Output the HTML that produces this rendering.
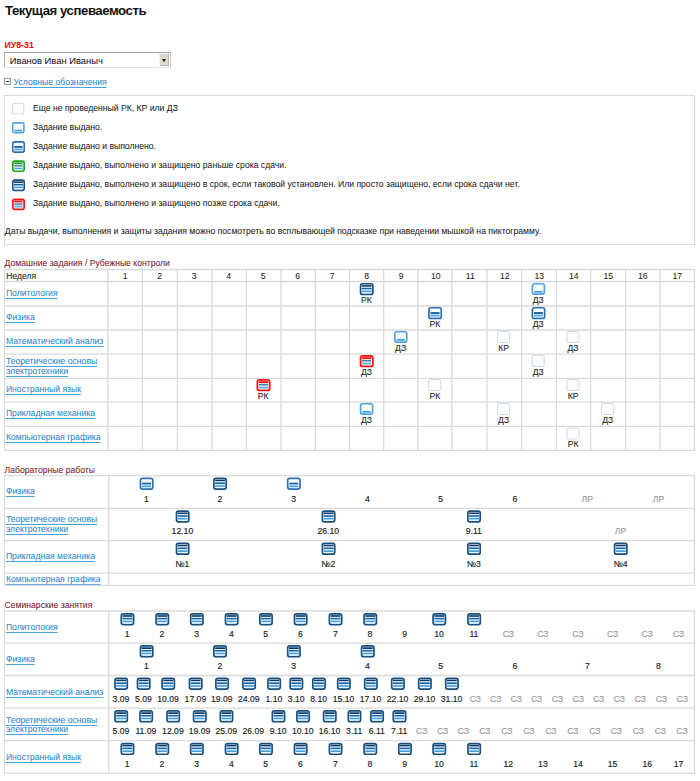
<!DOCTYPE html>
<html><head><meta charset="utf-8"><style>
html,body{margin:0;padding:0;background:#fff;width:700px;height:781px;overflow:hidden;position:relative}
body{font-family:"Liberation Sans",sans-serif}
.t{position:absolute;white-space:nowrap;line-height:1;-webkit-text-stroke:0.05px currentColor}
.lnk{color:#2a86cc;text-decoration:underline;text-decoration-color:#4aa3df;text-underline-offset:1.5px}
.r{position:absolute}
.ov{position:absolute;left:0;top:0}
.sel{position:absolute;left:4px;top:52px;width:165px;height:14px;border:1px solid;border-color:#a6a29a #d4ccc4 #e8e4de #a8b4ae;background:#fff}
.selbtn{position:absolute;right:0.7px;top:0.2px;width:10.2px;height:13.3px;background:#dcd8ce;box-shadow:inset 1px 1px 0 #f4f2ec, inset -1px -1px 0 #b8b4aa}
.arr{position:absolute;left:3.2px;top:5.8px;width:0;height:0;border-left:2.3px solid transparent;border-right:2.3px solid transparent;border-top:3.2px solid #000}
.minus{position:absolute;left:4.1px;top:78.2px;width:4.6px;height:4.7px;border:1px solid #9a9a9a;background:#fff}
.minus div{position:absolute;left:0.9px;top:2.0px;width:3px;height:1px;background:#333}
.legend{position:absolute;left:4px;top:95px;width:689px;height:148px;border:1px solid #dadada}
</style></head><body>
<div class="t " style="top:4.33px;font-size:13.2px;color:#111;letter-spacing:-0.45px;font-weight:bold;left:5.00px;-webkit-text-stroke:0">Текущая успеваемость</div>
<div class="t " style="top:41.05px;font-size:8.8px;color:#f01010;letter-spacing:0px;font-weight:bold;left:4.40px;">ИУ8-31</div>
<div class="sel"><div class="selbtn"><div class="arr"></div></div></div>
<div class="t " style="top:55.54px;font-size:9.4px;color:#151515;letter-spacing:0px;left:9.80px;">Иванов Иван Иваныч</div>
<div class="minus"><div></div></div>
<div class="t lnk" style="top:77.78px;font-size:8.65px;color:#2a88d0;letter-spacing:0px;left:13.60px;">Условные обозначения</div>
<div class="legend"></div>
<div class="t " style="top:104.18px;font-size:8.65px;color:#1c1c1c;letter-spacing:0px;left:33.00px;">Еще не проведенный РК, КР или ДЗ</div>
<div class="t " style="top:123.18px;font-size:8.65px;color:#1c1c1c;letter-spacing:0px;left:33.00px;">Задание выдано.</div>
<div class="t " style="top:142.18px;font-size:8.65px;color:#1c1c1c;letter-spacing:0px;left:33.00px;">Задание выдано и выполнено.</div>
<div class="t " style="top:161.18px;font-size:8.65px;color:#1c1c1c;letter-spacing:0px;left:33.00px;">Задание выдано, выполнено и защищено раньше срока сдачи.</div>
<div class="t " style="top:180.18px;font-size:8.65px;color:#1c1c1c;letter-spacing:0px;left:33.00px;">Задание выдано, выполнено и защищено в срок, если таковой установлен. Или просто защищено, если срока сдачи нет.</div>
<div class="t " style="top:199.18px;font-size:8.65px;color:#1c1c1c;letter-spacing:0px;left:33.00px;">Задание выдано, выполнено и защищено позже срока сдачи.</div>
<div class="t " style="top:227.18px;font-size:8.65px;color:#1c1c1c;letter-spacing:0px;left:4.80px;">Даты выдачи, выполнения и защиты задания можно посмотреть во всплывающей подсказке при наведении мышкой на пиктограмму.</div>
<div class="t " style="top:259.18px;font-size:8.65px;color:#7c1428;letter-spacing:0px;left:4.50px;">Домашние задания / Рубежные контроли</div>
<div class="t " style="top:272.18px;font-size:8.65px;color:#1c1c1c;letter-spacing:0px;left:6.20px;">Неделя</div>
<div class="t " style="top:272.18px;font-size:8.65px;color:#1c1c1c;letter-spacing:0px;left:65.25px;width:120px;text-align:center;">1</div>
<div class="t " style="top:272.18px;font-size:8.65px;color:#1c1c1c;letter-spacing:0px;left:99.75px;width:120px;text-align:center;">2</div>
<div class="t " style="top:272.18px;font-size:8.65px;color:#1c1c1c;letter-spacing:0px;left:134.25px;width:120px;text-align:center;">3</div>
<div class="t " style="top:272.18px;font-size:8.65px;color:#1c1c1c;letter-spacing:0px;left:168.75px;width:120px;text-align:center;">4</div>
<div class="t " style="top:272.18px;font-size:8.65px;color:#1c1c1c;letter-spacing:0px;left:203.25px;width:120px;text-align:center;">5</div>
<div class="t " style="top:272.18px;font-size:8.65px;color:#1c1c1c;letter-spacing:0px;left:237.75px;width:120px;text-align:center;">6</div>
<div class="t " style="top:272.18px;font-size:8.65px;color:#1c1c1c;letter-spacing:0px;left:272.25px;width:120px;text-align:center;">7</div>
<div class="t " style="top:272.18px;font-size:8.65px;color:#1c1c1c;letter-spacing:0px;left:306.75px;width:120px;text-align:center;">8</div>
<div class="t " style="top:272.18px;font-size:8.65px;color:#1c1c1c;letter-spacing:0px;left:341.25px;width:120px;text-align:center;">9</div>
<div class="t " style="top:272.18px;font-size:8.65px;color:#1c1c1c;letter-spacing:0px;left:375.75px;width:120px;text-align:center;">10</div>
<div class="t " style="top:272.18px;font-size:8.65px;color:#1c1c1c;letter-spacing:0px;left:410.25px;width:120px;text-align:center;">11</div>
<div class="t " style="top:272.18px;font-size:8.65px;color:#1c1c1c;letter-spacing:0px;left:444.75px;width:120px;text-align:center;">12</div>
<div class="t " style="top:272.18px;font-size:8.65px;color:#1c1c1c;letter-spacing:0px;left:479.25px;width:120px;text-align:center;">13</div>
<div class="t " style="top:272.18px;font-size:8.65px;color:#1c1c1c;letter-spacing:0px;left:513.75px;width:120px;text-align:center;">14</div>
<div class="t " style="top:272.18px;font-size:8.65px;color:#1c1c1c;letter-spacing:0px;left:548.25px;width:120px;text-align:center;">15</div>
<div class="t " style="top:272.18px;font-size:8.65px;color:#1c1c1c;letter-spacing:0px;left:582.75px;width:120px;text-align:center;">16</div>
<div class="t " style="top:272.18px;font-size:8.65px;color:#1c1c1c;letter-spacing:0px;left:617.25px;width:120px;text-align:center;">17</div>
<div class="t lnk" style="top:289.18px;font-size:8.65px;color:#2a88d0;letter-spacing:0px;left:5.90px;">Политология</div>
<div class="t lnk" style="top:313.18px;font-size:8.65px;color:#2a88d0;letter-spacing:0px;left:5.90px;">Физика</div>
<div class="t lnk" style="top:337.18px;font-size:8.65px;color:#2a88d0;letter-spacing:0px;left:5.90px;">Математический анализ</div>
<div class="t lnk" style="top:357.18px;font-size:8.65px;color:#2a88d0;letter-spacing:0px;left:5.90px;">Теоретические основы</div>
<div class="t lnk" style="top:367.18px;font-size:8.65px;color:#2a88d0;letter-spacing:0px;left:5.90px;">электротехники</div>
<div class="t lnk" style="top:385.18px;font-size:8.65px;color:#2a88d0;letter-spacing:0px;left:5.90px;">Иностранный язык</div>
<div class="t lnk" style="top:409.18px;font-size:8.65px;color:#2a88d0;letter-spacing:0px;left:5.90px;">Прикладная механика</div>
<div class="t lnk" style="top:433.18px;font-size:8.65px;color:#2a88d0;letter-spacing:0px;left:5.90px;">Компьютерная графика</div>
<div class="t " style="top:296.18px;font-size:8.65px;color:#1c1c1c;letter-spacing:0px;left:306.45px;width:120px;text-align:center;-webkit-text-stroke:0.08px currentColor">РК</div>
<div class="t " style="top:296.18px;font-size:8.65px;color:#1c1c1c;letter-spacing:0px;left:478.25px;width:120px;text-align:center;-webkit-text-stroke:0.08px currentColor">ДЗ</div>
<div class="t " style="top:320.18px;font-size:8.65px;color:#1c1c1c;letter-spacing:0px;left:374.85px;width:120px;text-align:center;-webkit-text-stroke:0.08px currentColor">РК</div>
<div class="t " style="top:320.18px;font-size:8.65px;color:#1c1c1c;letter-spacing:0px;left:478.25px;width:120px;text-align:center;-webkit-text-stroke:0.08px currentColor">ДЗ</div>
<div class="t " style="top:344.18px;font-size:8.65px;color:#1c1c1c;letter-spacing:0px;left:340.65px;width:120px;text-align:center;-webkit-text-stroke:0.08px currentColor">ДЗ</div>
<div class="t " style="top:344.18px;font-size:8.65px;color:#1c1c1c;letter-spacing:0px;left:443.65px;width:120px;text-align:center;-webkit-text-stroke:0.08px currentColor">КР</div>
<div class="t " style="top:344.18px;font-size:8.65px;color:#1c1c1c;letter-spacing:0px;left:513.05px;width:120px;text-align:center;-webkit-text-stroke:0.08px currentColor">ДЗ</div>
<div class="t " style="top:368.18px;font-size:8.65px;color:#1c1c1c;letter-spacing:0px;left:306.45px;width:120px;text-align:center;-webkit-text-stroke:0.08px currentColor">ДЗ</div>
<div class="t " style="top:368.18px;font-size:8.65px;color:#1c1c1c;letter-spacing:0px;left:478.25px;width:120px;text-align:center;-webkit-text-stroke:0.08px currentColor">ДЗ</div>
<div class="t " style="top:392.18px;font-size:8.65px;color:#1c1c1c;letter-spacing:0px;left:203.25px;width:120px;text-align:center;-webkit-text-stroke:0.08px currentColor">РК</div>
<div class="t " style="top:392.18px;font-size:8.65px;color:#1c1c1c;letter-spacing:0px;left:374.85px;width:120px;text-align:center;-webkit-text-stroke:0.08px currentColor">РК</div>
<div class="t " style="top:392.18px;font-size:8.65px;color:#1c1c1c;letter-spacing:0px;left:513.05px;width:120px;text-align:center;-webkit-text-stroke:0.08px currentColor">КР</div>
<div class="t " style="top:416.18px;font-size:8.65px;color:#1c1c1c;letter-spacing:0px;left:306.45px;width:120px;text-align:center;-webkit-text-stroke:0.08px currentColor">ДЗ</div>
<div class="t " style="top:416.18px;font-size:8.65px;color:#1c1c1c;letter-spacing:0px;left:443.65px;width:120px;text-align:center;-webkit-text-stroke:0.08px currentColor">ДЗ</div>
<div class="t " style="top:416.18px;font-size:8.65px;color:#1c1c1c;letter-spacing:0px;left:547.75px;width:120px;text-align:center;-webkit-text-stroke:0.08px currentColor">ДЗ</div>
<div class="t " style="top:440.18px;font-size:8.65px;color:#1c1c1c;letter-spacing:0px;left:513.05px;width:120px;text-align:center;-webkit-text-stroke:0.08px currentColor">РК</div>
<div class="t " style="top:466.18px;font-size:8.65px;color:#7c1428;letter-spacing:0px;left:4.50px;">Лабораторные работы</div>
<div class="t lnk" style="top:487.18px;font-size:8.65px;color:#2a88d0;letter-spacing:0px;left:5.90px;">Физика</div>
<div class="t lnk" style="top:515.18px;font-size:8.65px;color:#2a88d0;letter-spacing:0px;left:5.90px;">Теоретические основы</div>
<div class="t lnk" style="top:525.18px;font-size:8.65px;color:#2a88d0;letter-spacing:0px;left:5.90px;">электротехники</div>
<div class="t lnk" style="top:552.18px;font-size:8.65px;color:#2a88d0;letter-spacing:0px;left:5.90px;">Прикладная механика</div>
<div class="t lnk" style="top:575.18px;font-size:8.65px;color:#2a88d0;letter-spacing:0px;left:5.90px;">Компьютерная графика</div>
<div class="t " style="top:495.18px;font-size:8.65px;color:#1c1c1c;letter-spacing:0px;left:86.40px;width:120px;text-align:center;-webkit-text-stroke:0.15px currentColor">1</div>
<div class="t " style="top:495.18px;font-size:8.65px;color:#1c1c1c;letter-spacing:0px;left:159.80px;width:120px;text-align:center;-webkit-text-stroke:0.15px currentColor">2</div>
<div class="t " style="top:495.18px;font-size:8.65px;color:#1c1c1c;letter-spacing:0px;left:233.60px;width:120px;text-align:center;-webkit-text-stroke:0.15px currentColor">3</div>
<div class="t " style="top:495.18px;font-size:8.65px;color:#1c1c1c;letter-spacing:0px;left:307.50px;width:120px;text-align:center;-webkit-text-stroke:0.15px currentColor">4</div>
<div class="t " style="top:495.18px;font-size:8.65px;color:#1c1c1c;letter-spacing:0px;left:380.70px;width:120px;text-align:center;-webkit-text-stroke:0.15px currentColor">5</div>
<div class="t " style="top:495.18px;font-size:8.65px;color:#1c1c1c;letter-spacing:0px;left:454.90px;width:120px;text-align:center;-webkit-text-stroke:0.15px currentColor">6</div>
<div class="t " style="top:495.18px;font-size:8.65px;color:#9a9a9a;letter-spacing:0px;left:527.30px;width:120px;text-align:center;-webkit-text-stroke:0.15px currentColor">ЛР</div>
<div class="t " style="top:495.18px;font-size:8.65px;color:#9a9a9a;letter-spacing:0px;left:598.50px;width:120px;text-align:center;-webkit-text-stroke:0.15px currentColor">ЛР</div>
<div class="t " style="top:527.18px;font-size:8.65px;color:#1c1c1c;letter-spacing:0px;left:122.40px;width:120px;text-align:center;-webkit-text-stroke:0.15px currentColor">12.10</div>
<div class="t " style="top:527.18px;font-size:8.65px;color:#1c1c1c;letter-spacing:0px;left:268.30px;width:120px;text-align:center;-webkit-text-stroke:0.15px currentColor">26.10</div>
<div class="t " style="top:527.18px;font-size:8.65px;color:#1c1c1c;letter-spacing:0px;left:413.80px;width:120px;text-align:center;-webkit-text-stroke:0.15px currentColor">9.11</div>
<div class="t " style="top:527.18px;font-size:8.65px;color:#9a9a9a;letter-spacing:0px;left:560.50px;width:120px;text-align:center;-webkit-text-stroke:0.15px currentColor">ЛР</div>
<div class="t " style="top:560.18px;font-size:8.65px;color:#1c1c1c;letter-spacing:0px;left:122.40px;width:120px;text-align:center;-webkit-text-stroke:0.15px currentColor">№1</div>
<div class="t " style="top:560.18px;font-size:8.65px;color:#1c1c1c;letter-spacing:0px;left:268.30px;width:120px;text-align:center;-webkit-text-stroke:0.15px currentColor">№2</div>
<div class="t " style="top:560.18px;font-size:8.65px;color:#1c1c1c;letter-spacing:0px;left:413.80px;width:120px;text-align:center;-webkit-text-stroke:0.15px currentColor">№3</div>
<div class="t " style="top:560.18px;font-size:8.65px;color:#1c1c1c;letter-spacing:0px;left:560.50px;width:120px;text-align:center;-webkit-text-stroke:0.15px currentColor">№4</div>
<div class="t " style="top:601.18px;font-size:8.65px;color:#7c1428;letter-spacing:0px;left:4.50px;">Семинарские занятия</div>
<div class="t lnk" style="top:623.18px;font-size:8.65px;color:#2a88d0;letter-spacing:0px;left:5.90px;">Политология</div>
<div class="t lnk" style="top:655.18px;font-size:8.65px;color:#2a88d0;letter-spacing:0px;left:5.90px;">Физика</div>
<div class="t lnk" style="top:688.18px;font-size:8.65px;color:#2a88d0;letter-spacing:0px;left:5.90px;">Математический анализ</div>
<div class="t lnk" style="top:716.18px;font-size:8.65px;color:#2a88d0;letter-spacing:0px;left:5.90px;">Теоретические основы</div>
<div class="t lnk" style="top:725.18px;font-size:8.65px;color:#2a88d0;letter-spacing:0px;left:5.90px;">электротехники</div>
<div class="t lnk" style="top:753.18px;font-size:8.65px;color:#2a88d0;letter-spacing:0px;left:5.90px;">Иностранный язык</div>
<div class="t " style="top:630.18px;font-size:8.65px;color:#1c1c1c;letter-spacing:0px;left:67.20px;width:120px;text-align:center;-webkit-text-stroke:0.15px currentColor">1</div>
<div class="t " style="top:630.18px;font-size:8.65px;color:#1c1c1c;letter-spacing:0px;left:102.00px;width:120px;text-align:center;-webkit-text-stroke:0.15px currentColor">2</div>
<div class="t " style="top:630.18px;font-size:8.65px;color:#1c1c1c;letter-spacing:0px;left:136.60px;width:120px;text-align:center;-webkit-text-stroke:0.15px currentColor">3</div>
<div class="t " style="top:630.18px;font-size:8.65px;color:#1c1c1c;letter-spacing:0px;left:171.40px;width:120px;text-align:center;-webkit-text-stroke:0.15px currentColor">4</div>
<div class="t " style="top:630.18px;font-size:8.65px;color:#1c1c1c;letter-spacing:0px;left:205.70px;width:120px;text-align:center;-webkit-text-stroke:0.15px currentColor">5</div>
<div class="t " style="top:630.18px;font-size:8.65px;color:#1c1c1c;letter-spacing:0px;left:240.40px;width:120px;text-align:center;-webkit-text-stroke:0.15px currentColor">6</div>
<div class="t " style="top:630.18px;font-size:8.65px;color:#1c1c1c;letter-spacing:0px;left:275.30px;width:120px;text-align:center;-webkit-text-stroke:0.15px currentColor">7</div>
<div class="t " style="top:630.18px;font-size:8.65px;color:#1c1c1c;letter-spacing:0px;left:310.00px;width:120px;text-align:center;-webkit-text-stroke:0.15px currentColor">8</div>
<div class="t " style="top:630.18px;font-size:8.65px;color:#1c1c1c;letter-spacing:0px;left:344.70px;width:120px;text-align:center;-webkit-text-stroke:0.15px currentColor">9</div>
<div class="t " style="top:630.18px;font-size:8.65px;color:#1c1c1c;letter-spacing:0px;left:379.00px;width:120px;text-align:center;-webkit-text-stroke:0.15px currentColor">10</div>
<div class="t " style="top:630.18px;font-size:8.65px;color:#1c1c1c;letter-spacing:0px;left:413.90px;width:120px;text-align:center;-webkit-text-stroke:0.15px currentColor">11</div>
<div class="t " style="top:630.18px;font-size:8.65px;color:#9a9a9a;letter-spacing:0px;left:448.30px;width:120px;text-align:center;-webkit-text-stroke:0.15px currentColor">СЗ</div>
<div class="t " style="top:630.18px;font-size:8.65px;color:#9a9a9a;letter-spacing:0px;left:482.90px;width:120px;text-align:center;-webkit-text-stroke:0.15px currentColor">СЗ</div>
<div class="t " style="top:630.18px;font-size:8.65px;color:#9a9a9a;letter-spacing:0px;left:518.00px;width:120px;text-align:center;-webkit-text-stroke:0.15px currentColor">СЗ</div>
<div class="t " style="top:630.18px;font-size:8.65px;color:#9a9a9a;letter-spacing:0px;left:552.60px;width:120px;text-align:center;-webkit-text-stroke:0.15px currentColor">СЗ</div>
<div class="t " style="top:630.18px;font-size:8.65px;color:#9a9a9a;letter-spacing:0px;left:587.20px;width:120px;text-align:center;-webkit-text-stroke:0.15px currentColor">СЗ</div>
<div class="t " style="top:630.18px;font-size:8.65px;color:#9a9a9a;letter-spacing:0px;left:618.60px;width:120px;text-align:center;-webkit-text-stroke:0.15px currentColor">СЗ</div>
<div class="t " style="top:662.18px;font-size:8.65px;color:#1c1c1c;letter-spacing:0px;left:86.40px;width:120px;text-align:center;-webkit-text-stroke:0.15px currentColor">1</div>
<div class="t " style="top:662.18px;font-size:8.65px;color:#1c1c1c;letter-spacing:0px;left:159.80px;width:120px;text-align:center;-webkit-text-stroke:0.15px currentColor">2</div>
<div class="t " style="top:662.18px;font-size:8.65px;color:#1c1c1c;letter-spacing:0px;left:233.60px;width:120px;text-align:center;-webkit-text-stroke:0.15px currentColor">3</div>
<div class="t " style="top:662.18px;font-size:8.65px;color:#1c1c1c;letter-spacing:0px;left:307.50px;width:120px;text-align:center;-webkit-text-stroke:0.15px currentColor">4</div>
<div class="t " style="top:662.18px;font-size:8.65px;color:#1c1c1c;letter-spacing:0px;left:380.70px;width:120px;text-align:center;-webkit-text-stroke:0.15px currentColor">5</div>
<div class="t " style="top:662.18px;font-size:8.65px;color:#1c1c1c;letter-spacing:0px;left:454.90px;width:120px;text-align:center;-webkit-text-stroke:0.15px currentColor">6</div>
<div class="t " style="top:662.18px;font-size:8.65px;color:#1c1c1c;letter-spacing:0px;left:527.30px;width:120px;text-align:center;-webkit-text-stroke:0.15px currentColor">7</div>
<div class="t " style="top:662.18px;font-size:8.65px;color:#1c1c1c;letter-spacing:0px;left:598.50px;width:120px;text-align:center;-webkit-text-stroke:0.15px currentColor">8</div>
<div class="t " style="top:695.18px;font-size:8.65px;color:#1c1c1c;letter-spacing:0px;left:60.90px;width:120px;text-align:center;-webkit-text-stroke:0.15px currentColor">3.09</div>
<div class="t " style="top:695.18px;font-size:8.65px;color:#1c1c1c;letter-spacing:0px;left:83.40px;width:120px;text-align:center;-webkit-text-stroke:0.15px currentColor">5.09</div>
<div class="t " style="top:695.18px;font-size:8.65px;color:#1c1c1c;letter-spacing:0px;left:108.00px;width:120px;text-align:center;-webkit-text-stroke:0.15px currentColor">10.09</div>
<div class="t " style="top:695.18px;font-size:8.65px;color:#1c1c1c;letter-spacing:0px;left:135.40px;width:120px;text-align:center;-webkit-text-stroke:0.15px currentColor">17.09</div>
<div class="t " style="top:695.18px;font-size:8.65px;color:#1c1c1c;letter-spacing:0px;left:161.80px;width:120px;text-align:center;-webkit-text-stroke:0.15px currentColor">19.09</div>
<div class="t " style="top:695.18px;font-size:8.65px;color:#1c1c1c;letter-spacing:0px;left:188.80px;width:120px;text-align:center;-webkit-text-stroke:0.15px currentColor">24.09</div>
<div class="t " style="top:695.18px;font-size:8.65px;color:#1c1c1c;letter-spacing:0px;left:213.90px;width:120px;text-align:center;-webkit-text-stroke:0.15px currentColor">1.10</div>
<div class="t " style="top:695.18px;font-size:8.65px;color:#1c1c1c;letter-spacing:0px;left:236.10px;width:120px;text-align:center;-webkit-text-stroke:0.15px currentColor">3.10</div>
<div class="t " style="top:695.18px;font-size:8.65px;color:#1c1c1c;letter-spacing:0px;left:258.70px;width:120px;text-align:center;-webkit-text-stroke:0.15px currentColor">8.10</div>
<div class="t " style="top:695.18px;font-size:8.65px;color:#1c1c1c;letter-spacing:0px;left:283.60px;width:120px;text-align:center;-webkit-text-stroke:0.15px currentColor">15.10</div>
<div class="t " style="top:695.18px;font-size:8.65px;color:#1c1c1c;letter-spacing:0px;left:310.60px;width:120px;text-align:center;-webkit-text-stroke:0.15px currentColor">17.10</div>
<div class="t " style="top:695.18px;font-size:8.65px;color:#1c1c1c;letter-spacing:0px;left:337.60px;width:120px;text-align:center;-webkit-text-stroke:0.15px currentColor">22.10</div>
<div class="t " style="top:695.18px;font-size:8.65px;color:#1c1c1c;letter-spacing:0px;left:364.60px;width:120px;text-align:center;-webkit-text-stroke:0.15px currentColor">29.10</div>
<div class="t " style="top:695.18px;font-size:8.65px;color:#1c1c1c;letter-spacing:0px;left:391.60px;width:120px;text-align:center;-webkit-text-stroke:0.15px currentColor">31.10</div>
<div class="t " style="top:695.18px;font-size:8.65px;color:#9a9a9a;letter-spacing:0px;left:415.30px;width:120px;text-align:center;-webkit-text-stroke:0.15px currentColor">СЗ</div>
<div class="t " style="top:695.18px;font-size:8.65px;color:#9a9a9a;letter-spacing:0px;left:435.70px;width:120px;text-align:center;-webkit-text-stroke:0.15px currentColor">СЗ</div>
<div class="t " style="top:695.18px;font-size:8.65px;color:#9a9a9a;letter-spacing:0px;left:456.20px;width:120px;text-align:center;-webkit-text-stroke:0.15px currentColor">СЗ</div>
<div class="t " style="top:695.18px;font-size:8.65px;color:#9a9a9a;letter-spacing:0px;left:476.60px;width:120px;text-align:center;-webkit-text-stroke:0.15px currentColor">СЗ</div>
<div class="t " style="top:695.18px;font-size:8.65px;color:#9a9a9a;letter-spacing:0px;left:497.40px;width:120px;text-align:center;-webkit-text-stroke:0.15px currentColor">СЗ</div>
<div class="t " style="top:695.18px;font-size:8.65px;color:#9a9a9a;letter-spacing:0px;left:518.20px;width:120px;text-align:center;-webkit-text-stroke:0.15px currentColor">СЗ</div>
<div class="t " style="top:695.18px;font-size:8.65px;color:#9a9a9a;letter-spacing:0px;left:538.60px;width:120px;text-align:center;-webkit-text-stroke:0.15px currentColor">СЗ</div>
<div class="t " style="top:695.18px;font-size:8.65px;color:#9a9a9a;letter-spacing:0px;left:559.40px;width:120px;text-align:center;-webkit-text-stroke:0.15px currentColor">СЗ</div>
<div class="t " style="top:695.18px;font-size:8.65px;color:#9a9a9a;letter-spacing:0px;left:580.20px;width:120px;text-align:center;-webkit-text-stroke:0.15px currentColor">СЗ</div>
<div class="t " style="top:695.18px;font-size:8.65px;color:#9a9a9a;letter-spacing:0px;left:601.40px;width:120px;text-align:center;-webkit-text-stroke:0.15px currentColor">СЗ</div>
<div class="t " style="top:695.18px;font-size:8.65px;color:#9a9a9a;letter-spacing:0px;left:622.20px;width:120px;text-align:center;-webkit-text-stroke:0.15px currentColor">СЗ</div>
<div class="t " style="top:727.18px;font-size:8.65px;color:#1c1c1c;letter-spacing:0px;left:60.90px;width:120px;text-align:center;-webkit-text-stroke:0.15px currentColor">5.09</div>
<div class="t " style="top:727.18px;font-size:8.65px;color:#1c1c1c;letter-spacing:0px;left:85.90px;width:120px;text-align:center;-webkit-text-stroke:0.15px currentColor">11.09</div>
<div class="t " style="top:727.18px;font-size:8.65px;color:#1c1c1c;letter-spacing:0px;left:112.90px;width:120px;text-align:center;-webkit-text-stroke:0.15px currentColor">12.09</div>
<div class="t " style="top:727.18px;font-size:8.65px;color:#1c1c1c;letter-spacing:0px;left:139.50px;width:120px;text-align:center;-webkit-text-stroke:0.15px currentColor">19.09</div>
<div class="t " style="top:727.18px;font-size:8.65px;color:#1c1c1c;letter-spacing:0px;left:166.20px;width:120px;text-align:center;-webkit-text-stroke:0.15px currentColor">25.09</div>
<div class="t " style="top:727.18px;font-size:8.65px;color:#1c1c1c;letter-spacing:0px;left:193.30px;width:120px;text-align:center;-webkit-text-stroke:0.15px currentColor">26.09</div>
<div class="t " style="top:727.18px;font-size:8.65px;color:#1c1c1c;letter-spacing:0px;left:218.20px;width:120px;text-align:center;-webkit-text-stroke:0.15px currentColor">9.10</div>
<div class="t " style="top:727.18px;font-size:8.65px;color:#1c1c1c;letter-spacing:0px;left:242.80px;width:120px;text-align:center;-webkit-text-stroke:0.15px currentColor">10.10</div>
<div class="t " style="top:727.18px;font-size:8.65px;color:#1c1c1c;letter-spacing:0px;left:269.50px;width:120px;text-align:center;-webkit-text-stroke:0.15px currentColor">16.10</div>
<div class="t " style="top:727.18px;font-size:8.65px;color:#1c1c1c;letter-spacing:0px;left:294.20px;width:120px;text-align:center;-webkit-text-stroke:0.15px currentColor">3.11</div>
<div class="t " style="top:727.18px;font-size:8.65px;color:#1c1c1c;letter-spacing:0px;left:316.80px;width:120px;text-align:center;-webkit-text-stroke:0.15px currentColor">6.11</div>
<div class="t " style="top:727.18px;font-size:8.65px;color:#1c1c1c;letter-spacing:0px;left:339.20px;width:120px;text-align:center;-webkit-text-stroke:0.15px currentColor">7.11</div>
<div class="t " style="top:727.18px;font-size:8.65px;color:#9a9a9a;letter-spacing:0px;left:361.70px;width:120px;text-align:center;-webkit-text-stroke:0.15px currentColor">СЗ</div>
<div class="t " style="top:727.18px;font-size:8.65px;color:#9a9a9a;letter-spacing:0px;left:382.60px;width:120px;text-align:center;-webkit-text-stroke:0.15px currentColor">СЗ</div>
<div class="t " style="top:727.18px;font-size:8.65px;color:#9a9a9a;letter-spacing:0px;left:403.20px;width:120px;text-align:center;-webkit-text-stroke:0.15px currentColor">СЗ</div>
<div class="t " style="top:727.18px;font-size:8.65px;color:#9a9a9a;letter-spacing:0px;left:424.80px;width:120px;text-align:center;-webkit-text-stroke:0.15px currentColor">СЗ</div>
<div class="t " style="top:727.18px;font-size:8.65px;color:#9a9a9a;letter-spacing:0px;left:446.80px;width:120px;text-align:center;-webkit-text-stroke:0.15px currentColor">СЗ</div>
<div class="t " style="top:727.18px;font-size:8.65px;color:#9a9a9a;letter-spacing:0px;left:468.80px;width:120px;text-align:center;-webkit-text-stroke:0.15px currentColor">СЗ</div>
<div class="t " style="top:727.18px;font-size:8.65px;color:#9a9a9a;letter-spacing:0px;left:490.80px;width:120px;text-align:center;-webkit-text-stroke:0.15px currentColor">СЗ</div>
<div class="t " style="top:727.18px;font-size:8.65px;color:#9a9a9a;letter-spacing:0px;left:512.80px;width:120px;text-align:center;-webkit-text-stroke:0.15px currentColor">СЗ</div>
<div class="t " style="top:727.18px;font-size:8.65px;color:#9a9a9a;letter-spacing:0px;left:534.80px;width:120px;text-align:center;-webkit-text-stroke:0.15px currentColor">СЗ</div>
<div class="t " style="top:727.18px;font-size:8.65px;color:#9a9a9a;letter-spacing:0px;left:556.40px;width:120px;text-align:center;-webkit-text-stroke:0.15px currentColor">СЗ</div>
<div class="t " style="top:727.18px;font-size:8.65px;color:#9a9a9a;letter-spacing:0px;left:578.40px;width:120px;text-align:center;-webkit-text-stroke:0.15px currentColor">СЗ</div>
<div class="t " style="top:727.18px;font-size:8.65px;color:#9a9a9a;letter-spacing:0px;left:600.40px;width:120px;text-align:center;-webkit-text-stroke:0.15px currentColor">СЗ</div>
<div class="t " style="top:727.18px;font-size:8.65px;color:#9a9a9a;letter-spacing:0px;left:622.00px;width:120px;text-align:center;-webkit-text-stroke:0.15px currentColor">СЗ</div>
<div class="t " style="top:760.18px;font-size:8.65px;color:#1c1c1c;letter-spacing:0px;left:67.20px;width:120px;text-align:center;-webkit-text-stroke:0.15px currentColor">1</div>
<div class="t " style="top:760.18px;font-size:8.65px;color:#1c1c1c;letter-spacing:0px;left:102.00px;width:120px;text-align:center;-webkit-text-stroke:0.15px currentColor">2</div>
<div class="t " style="top:760.18px;font-size:8.65px;color:#1c1c1c;letter-spacing:0px;left:136.60px;width:120px;text-align:center;-webkit-text-stroke:0.15px currentColor">3</div>
<div class="t " style="top:760.18px;font-size:8.65px;color:#1c1c1c;letter-spacing:0px;left:171.40px;width:120px;text-align:center;-webkit-text-stroke:0.15px currentColor">4</div>
<div class="t " style="top:760.18px;font-size:8.65px;color:#1c1c1c;letter-spacing:0px;left:205.70px;width:120px;text-align:center;-webkit-text-stroke:0.15px currentColor">5</div>
<div class="t " style="top:760.18px;font-size:8.65px;color:#1c1c1c;letter-spacing:0px;left:240.40px;width:120px;text-align:center;-webkit-text-stroke:0.15px currentColor">6</div>
<div class="t " style="top:760.18px;font-size:8.65px;color:#1c1c1c;letter-spacing:0px;left:275.30px;width:120px;text-align:center;-webkit-text-stroke:0.15px currentColor">7</div>
<div class="t " style="top:760.18px;font-size:8.65px;color:#1c1c1c;letter-spacing:0px;left:310.00px;width:120px;text-align:center;-webkit-text-stroke:0.15px currentColor">8</div>
<div class="t " style="top:760.18px;font-size:8.65px;color:#1c1c1c;letter-spacing:0px;left:344.70px;width:120px;text-align:center;-webkit-text-stroke:0.15px currentColor">9</div>
<div class="t " style="top:760.18px;font-size:8.65px;color:#1c1c1c;letter-spacing:0px;left:379.00px;width:120px;text-align:center;-webkit-text-stroke:0.15px currentColor">10</div>
<div class="t " style="top:760.18px;font-size:8.65px;color:#1c1c1c;letter-spacing:0px;left:413.90px;width:120px;text-align:center;-webkit-text-stroke:0.15px currentColor">11</div>
<div class="t " style="top:760.18px;font-size:8.65px;color:#1c1c1c;letter-spacing:0px;left:448.30px;width:120px;text-align:center;-webkit-text-stroke:0.15px currentColor">12</div>
<div class="t " style="top:760.18px;font-size:8.65px;color:#1c1c1c;letter-spacing:0px;left:482.90px;width:120px;text-align:center;-webkit-text-stroke:0.15px currentColor">13</div>
<div class="t " style="top:760.18px;font-size:8.65px;color:#1c1c1c;letter-spacing:0px;left:518.00px;width:120px;text-align:center;-webkit-text-stroke:0.15px currentColor">14</div>
<div class="t " style="top:760.18px;font-size:8.65px;color:#1c1c1c;letter-spacing:0px;left:552.60px;width:120px;text-align:center;-webkit-text-stroke:0.15px currentColor">15</div>
<div class="t " style="top:760.18px;font-size:8.65px;color:#1c1c1c;letter-spacing:0px;left:587.20px;width:120px;text-align:center;-webkit-text-stroke:0.15px currentColor">16</div>
<div class="t " style="top:760.18px;font-size:8.65px;color:#1c1c1c;letter-spacing:0px;left:618.60px;width:120px;text-align:center;-webkit-text-stroke:0.15px currentColor">17</div>
<svg class="ov" width="700" height="781" viewBox="0 0 700 781"><g fill="none" stroke="#dadada" stroke-width="1.3"><path d="M4 269.5H695.2"/><path d="M4 281.5H695.2"/><path d="M4 306.0H695.2"/><path d="M4 330.0H695.2"/><path d="M4 354.2H695.2"/><path d="M4 378.3H695.2"/><path d="M4 402.1H695.2"/><path d="M4 426.4H695.2"/><path d="M4 450.3H695.2"/><path d="M107.8 268.8V451.0"/><path d="M142.4 268.8V451.0"/><path d="M177.4 268.8V451.0"/><path d="M212.0 268.8V451.0"/><path d="M246.4 268.8V451.0"/><path d="M281.0 268.8V451.0"/><path d="M315.3 268.8V451.0"/><path d="M349.6 268.8V451.0"/><path d="M383.7 268.8V451.0"/><path d="M417.8 268.8V451.0"/><path d="M451.8 268.8V451.0"/><path d="M487.0 268.8V451.0"/><path d="M521.6 268.8V451.0"/><path d="M556.4 268.8V451.0"/><path d="M590.6 268.8V451.0"/><path d="M625.6 268.8V451.0"/><path d="M660.0 268.8V451.0"/><path d="M694.5 268.8V451.0"/><path d="M4.5 268.8V451.0" stroke-width="1"/><path d="M4 475.7H695.2"/><path d="M4 508.3H695.2"/><path d="M4 540.6H695.2"/><path d="M4 573.1H695.2"/><path d="M4 585.4H695.2"/><path d="M108.8 475.0V586.1"/><path d="M694.5 475.0V586.1"/><path d="M4.5 475.0V586.1" stroke-width="1"/><path d="M4 611.0H695.2"/><path d="M4 643.1H695.2"/><path d="M4 675.5H695.2"/><path d="M4 708.1H695.2"/><path d="M4 740.7H695.2"/><path d="M4 773.1H695.2"/><path d="M108.8 610.3V773.8000000000001"/><path d="M694.5 610.3V773.8000000000001"/><path d="M4.5 610.3V773.8000000000001" stroke-width="1"/></g><g transform="translate(12.00,102.90) scale(0.93,0.96)"><rect x="0.55" y="0.55" width="12.1" height="11.0" rx="1.8" fill="#fff" stroke="#cfdbe9" stroke-width="1.1"/></g><g transform="translate(12.00,122.00) scale(0.93,0.96)"><rect x="0.85" y="0.85" width="12.0" height="10.3" rx="2.0" fill="#fff" stroke="#50a5e0" stroke-width="1.7"/><rect x="2.7" y="8.0" width="8.3" height="1.8" fill="#46a0de"/></g><g transform="translate(12.00,141.10) scale(0.93,0.96)"><rect x="0.85" y="0.85" width="12.3" height="10.700000000000001" rx="2.0" fill="#fff" stroke="#2a6fae" stroke-width="1.7"/><rect x="2.5" y="5.2" width="8.9" height="1.9" fill="#135f9f"/><rect x="2.5" y="7.1" width="8.9" height="0.9" fill="#d4e6f4"/><rect x="2.5" y="8.0" width="8.9" height="1.6" fill="#4aa3e0"/><rect x="2.5" y="9.6" width="8.9" height="0.8" fill="#bcdcf2"/></g><g transform="translate(12.00,160.20) scale(0.93,0.96)"><rect x="0.9" y="0.9" width="12.2" height="10.6" rx="2.0" fill="#fff" stroke="#14a814" stroke-width="1.8"/><rect x="2.5" y="2.3" width="8.9" height="2.0" fill="#10a510"/><rect x="2.5" y="4.3" width="8.9" height="1.0" fill="#e0efe0"/><rect x="2.5" y="5.3" width="8.9" height="1.3" fill="#17589a"/><rect x="2.5" y="6.6" width="8.9" height="1.6" fill="#c4dcf0"/><rect x="2.5" y="8.2" width="8.9" height="1.3" fill="#3f9fe0"/><rect x="2.5" y="9.5" width="8.9" height="0.7" fill="#cfe4f4"/></g><g transform="translate(12.00,179.30) scale(0.93,0.96)"><rect x="0.85" y="0.85" width="12.3" height="10.700000000000001" rx="2.0" fill="#fff" stroke="#17507e" stroke-width="1.7"/><rect x="2.1" y="2.2" width="9.8" height="1.7" fill="#0a3868"/><rect x="2.1" y="3.9" width="9.8" height="1.0" fill="#e6eef6"/><rect x="2.1" y="4.9" width="9.8" height="1.7" fill="#1662a4"/><rect x="2.1" y="6.6" width="9.8" height="1.1" fill="#dcebf6"/><rect x="2.1" y="7.7" width="9.8" height="1.7" fill="#3d9ee2"/><rect x="2.1" y="9.4" width="9.8" height="1.0" fill="#eef6fc"/></g><g transform="translate(12.00,198.40) scale(0.93,0.96)"><rect x="0.9" y="0.9" width="12.2" height="10.6" rx="2.0" fill="#fff" stroke="#fa1212" stroke-width="1.8"/><rect x="2.5" y="2.3" width="8.9" height="2.0" fill="#f50c0c"/><rect x="2.5" y="4.3" width="8.9" height="1.0" fill="#f4e0e4"/><rect x="2.5" y="5.3" width="8.9" height="1.3" fill="#17589a"/><rect x="2.5" y="6.6" width="8.9" height="1.6" fill="#c4dcf0"/><rect x="2.5" y="8.2" width="8.9" height="1.3" fill="#3f9fe0"/><rect x="2.5" y="9.5" width="8.9" height="0.7" fill="#cfe4f4"/></g><g transform="translate(359.70,282.90)"><rect x="0.85" y="0.85" width="12.3" height="10.700000000000001" rx="2.0" fill="#fff" stroke="#17507e" stroke-width="1.7"/><rect x="2.1" y="2.2" width="9.8" height="1.7" fill="#0a3868"/><rect x="2.1" y="3.9" width="9.8" height="1.0" fill="#e6eef6"/><rect x="2.1" y="4.9" width="9.8" height="1.7" fill="#1662a4"/><rect x="2.1" y="6.6" width="9.8" height="1.1" fill="#dcebf6"/><rect x="2.1" y="7.7" width="9.8" height="1.7" fill="#3d9ee2"/><rect x="2.1" y="9.4" width="9.8" height="1.0" fill="#eef6fc"/></g><g transform="translate(531.50,282.90)"><rect x="0.85" y="0.85" width="12.0" height="10.3" rx="2.0" fill="#fff" stroke="#50a5e0" stroke-width="1.7"/><rect x="2.7" y="8.0" width="8.3" height="1.8" fill="#46a0de"/></g><g transform="translate(428.10,306.90)"><rect x="0.85" y="0.85" width="12.3" height="10.700000000000001" rx="2.0" fill="#fff" stroke="#2a6fae" stroke-width="1.7"/><rect x="2.5" y="5.2" width="8.9" height="1.9" fill="#135f9f"/><rect x="2.5" y="7.1" width="8.9" height="0.9" fill="#d4e6f4"/><rect x="2.5" y="8.0" width="8.9" height="1.6" fill="#4aa3e0"/><rect x="2.5" y="9.6" width="8.9" height="0.8" fill="#bcdcf2"/></g><g transform="translate(531.50,306.90)"><rect x="0.85" y="0.85" width="12.3" height="10.700000000000001" rx="2.0" fill="#fff" stroke="#2a6fae" stroke-width="1.7"/><rect x="2.5" y="5.2" width="8.9" height="1.9" fill="#135f9f"/><rect x="2.5" y="7.1" width="8.9" height="0.9" fill="#d4e6f4"/><rect x="2.5" y="8.0" width="8.9" height="1.6" fill="#4aa3e0"/><rect x="2.5" y="9.6" width="8.9" height="0.8" fill="#bcdcf2"/></g><g transform="translate(393.90,330.90)"><rect x="0.85" y="0.85" width="12.0" height="10.3" rx="2.0" fill="#fff" stroke="#50a5e0" stroke-width="1.7"/><rect x="2.7" y="8.0" width="8.3" height="1.8" fill="#46a0de"/></g><g transform="translate(496.90,330.90)"><rect x="0.55" y="0.55" width="12.1" height="11.0" rx="1.8" fill="#fff" stroke="#cfdbe9" stroke-width="1.1"/></g><g transform="translate(566.30,330.90)"><rect x="0.55" y="0.55" width="12.1" height="11.0" rx="1.8" fill="#fff" stroke="#cfdbe9" stroke-width="1.1"/></g><g transform="translate(359.70,354.90)"><rect x="0.9" y="0.9" width="12.2" height="10.6" rx="2.0" fill="#fff" stroke="#fa1212" stroke-width="1.8"/><rect x="2.5" y="2.3" width="8.9" height="2.0" fill="#f50c0c"/><rect x="2.5" y="4.3" width="8.9" height="1.0" fill="#f4e0e4"/><rect x="2.5" y="5.3" width="8.9" height="1.3" fill="#17589a"/><rect x="2.5" y="6.6" width="8.9" height="1.6" fill="#c4dcf0"/><rect x="2.5" y="8.2" width="8.9" height="1.3" fill="#3f9fe0"/><rect x="2.5" y="9.5" width="8.9" height="0.7" fill="#cfe4f4"/></g><g transform="translate(531.50,354.90)"><rect x="0.55" y="0.55" width="12.1" height="11.0" rx="1.8" fill="#fff" stroke="#cfdbe9" stroke-width="1.1"/></g><g transform="translate(256.50,378.90)"><rect x="0.9" y="0.9" width="12.2" height="10.6" rx="2.0" fill="#fff" stroke="#fa1212" stroke-width="1.8"/><rect x="2.5" y="2.3" width="8.9" height="2.0" fill="#f50c0c"/><rect x="2.5" y="4.3" width="8.9" height="1.0" fill="#f4e0e4"/><rect x="2.5" y="5.3" width="8.9" height="1.3" fill="#17589a"/><rect x="2.5" y="6.6" width="8.9" height="1.6" fill="#c4dcf0"/><rect x="2.5" y="8.2" width="8.9" height="1.3" fill="#3f9fe0"/><rect x="2.5" y="9.5" width="8.9" height="0.7" fill="#cfe4f4"/></g><g transform="translate(428.10,378.90)"><rect x="0.55" y="0.55" width="12.1" height="11.0" rx="1.8" fill="#fff" stroke="#cfdbe9" stroke-width="1.1"/></g><g transform="translate(566.30,378.90)"><rect x="0.55" y="0.55" width="12.1" height="11.0" rx="1.8" fill="#fff" stroke="#cfdbe9" stroke-width="1.1"/></g><g transform="translate(359.70,402.90)"><rect x="0.85" y="0.85" width="12.0" height="10.3" rx="2.0" fill="#fff" stroke="#50a5e0" stroke-width="1.7"/><rect x="2.7" y="8.0" width="8.3" height="1.8" fill="#46a0de"/></g><g transform="translate(496.90,402.90)"><rect x="0.55" y="0.55" width="12.1" height="11.0" rx="1.8" fill="#fff" stroke="#cfdbe9" stroke-width="1.1"/></g><g transform="translate(601.00,402.90)"><rect x="0.55" y="0.55" width="12.1" height="11.0" rx="1.8" fill="#fff" stroke="#cfdbe9" stroke-width="1.1"/></g><g transform="translate(566.30,427.40)"><rect x="0.55" y="0.55" width="12.1" height="11.0" rx="1.8" fill="#fff" stroke="#cfdbe9" stroke-width="1.1"/></g><g transform="translate(139.65,477.50)"><rect x="0.85" y="0.85" width="12.3" height="10.700000000000001" rx="2.0" fill="#fff" stroke="#2a6fae" stroke-width="1.7"/><rect x="2.5" y="5.2" width="8.9" height="1.9" fill="#135f9f"/><rect x="2.5" y="7.1" width="8.9" height="0.9" fill="#d4e6f4"/><rect x="2.5" y="8.0" width="8.9" height="1.6" fill="#4aa3e0"/><rect x="2.5" y="9.6" width="8.9" height="0.8" fill="#bcdcf2"/></g><g transform="translate(213.05,477.50)"><rect x="0.85" y="0.85" width="12.3" height="10.700000000000001" rx="2.0" fill="#fff" stroke="#17507e" stroke-width="1.7"/><rect x="2.1" y="2.2" width="9.8" height="1.7" fill="#0a3868"/><rect x="2.1" y="3.9" width="9.8" height="1.0" fill="#e6eef6"/><rect x="2.1" y="4.9" width="9.8" height="1.7" fill="#1662a4"/><rect x="2.1" y="6.6" width="9.8" height="1.1" fill="#dcebf6"/><rect x="2.1" y="7.7" width="9.8" height="1.7" fill="#3d9ee2"/><rect x="2.1" y="9.4" width="9.8" height="1.0" fill="#eef6fc"/></g><g transform="translate(286.85,477.50)"><rect x="0.85" y="0.85" width="12.3" height="10.700000000000001" rx="2.0" fill="#fff" stroke="#2a6fae" stroke-width="1.7"/><rect x="2.5" y="5.2" width="8.9" height="1.9" fill="#135f9f"/><rect x="2.5" y="7.1" width="8.9" height="0.9" fill="#d4e6f4"/><rect x="2.5" y="8.0" width="8.9" height="1.6" fill="#4aa3e0"/><rect x="2.5" y="9.6" width="8.9" height="0.8" fill="#bcdcf2"/></g><g transform="translate(175.65,510.30)"><rect x="0.85" y="0.85" width="12.3" height="10.700000000000001" rx="2.0" fill="#fff" stroke="#17507e" stroke-width="1.7"/><rect x="2.1" y="2.2" width="9.8" height="1.7" fill="#0a3868"/><rect x="2.1" y="3.9" width="9.8" height="1.0" fill="#e6eef6"/><rect x="2.1" y="4.9" width="9.8" height="1.7" fill="#1662a4"/><rect x="2.1" y="6.6" width="9.8" height="1.1" fill="#dcebf6"/><rect x="2.1" y="7.7" width="9.8" height="1.7" fill="#3d9ee2"/><rect x="2.1" y="9.4" width="9.8" height="1.0" fill="#eef6fc"/></g><g transform="translate(321.55,510.30)"><rect x="0.85" y="0.85" width="12.3" height="10.700000000000001" rx="2.0" fill="#fff" stroke="#17507e" stroke-width="1.7"/><rect x="2.1" y="2.2" width="9.8" height="1.7" fill="#0a3868"/><rect x="2.1" y="3.9" width="9.8" height="1.0" fill="#e6eef6"/><rect x="2.1" y="4.9" width="9.8" height="1.7" fill="#1662a4"/><rect x="2.1" y="6.6" width="9.8" height="1.1" fill="#dcebf6"/><rect x="2.1" y="7.7" width="9.8" height="1.7" fill="#3d9ee2"/><rect x="2.1" y="9.4" width="9.8" height="1.0" fill="#eef6fc"/></g><g transform="translate(467.05,510.30)"><rect x="0.85" y="0.85" width="12.3" height="10.700000000000001" rx="2.0" fill="#fff" stroke="#17507e" stroke-width="1.7"/><rect x="2.1" y="2.2" width="9.8" height="1.7" fill="#0a3868"/><rect x="2.1" y="3.9" width="9.8" height="1.0" fill="#e6eef6"/><rect x="2.1" y="4.9" width="9.8" height="1.7" fill="#1662a4"/><rect x="2.1" y="6.6" width="9.8" height="1.1" fill="#dcebf6"/><rect x="2.1" y="7.7" width="9.8" height="1.7" fill="#3d9ee2"/><rect x="2.1" y="9.4" width="9.8" height="1.0" fill="#eef6fc"/></g><g transform="translate(175.65,542.60)"><rect x="0.85" y="0.85" width="12.3" height="10.700000000000001" rx="2.0" fill="#fff" stroke="#17507e" stroke-width="1.7"/><rect x="2.1" y="2.2" width="9.8" height="1.7" fill="#0a3868"/><rect x="2.1" y="3.9" width="9.8" height="1.0" fill="#e6eef6"/><rect x="2.1" y="4.9" width="9.8" height="1.7" fill="#1662a4"/><rect x="2.1" y="6.6" width="9.8" height="1.1" fill="#dcebf6"/><rect x="2.1" y="7.7" width="9.8" height="1.7" fill="#3d9ee2"/><rect x="2.1" y="9.4" width="9.8" height="1.0" fill="#eef6fc"/></g><g transform="translate(321.55,542.60)"><rect x="0.85" y="0.85" width="12.3" height="10.700000000000001" rx="2.0" fill="#fff" stroke="#17507e" stroke-width="1.7"/><rect x="2.1" y="2.2" width="9.8" height="1.7" fill="#0a3868"/><rect x="2.1" y="3.9" width="9.8" height="1.0" fill="#e6eef6"/><rect x="2.1" y="4.9" width="9.8" height="1.7" fill="#1662a4"/><rect x="2.1" y="6.6" width="9.8" height="1.1" fill="#dcebf6"/><rect x="2.1" y="7.7" width="9.8" height="1.7" fill="#3d9ee2"/><rect x="2.1" y="9.4" width="9.8" height="1.0" fill="#eef6fc"/></g><g transform="translate(467.05,542.60)"><rect x="0.85" y="0.85" width="12.3" height="10.700000000000001" rx="2.0" fill="#fff" stroke="#17507e" stroke-width="1.7"/><rect x="2.1" y="2.2" width="9.8" height="1.7" fill="#0a3868"/><rect x="2.1" y="3.9" width="9.8" height="1.0" fill="#e6eef6"/><rect x="2.1" y="4.9" width="9.8" height="1.7" fill="#1662a4"/><rect x="2.1" y="6.6" width="9.8" height="1.1" fill="#dcebf6"/><rect x="2.1" y="7.7" width="9.8" height="1.7" fill="#3d9ee2"/><rect x="2.1" y="9.4" width="9.8" height="1.0" fill="#eef6fc"/></g><g transform="translate(613.75,542.60)"><rect x="0.85" y="0.85" width="12.3" height="10.700000000000001" rx="2.0" fill="#fff" stroke="#17507e" stroke-width="1.7"/><rect x="2.1" y="2.2" width="9.8" height="1.7" fill="#0a3868"/><rect x="2.1" y="3.9" width="9.8" height="1.0" fill="#e6eef6"/><rect x="2.1" y="4.9" width="9.8" height="1.7" fill="#1662a4"/><rect x="2.1" y="6.6" width="9.8" height="1.1" fill="#dcebf6"/><rect x="2.1" y="7.7" width="9.8" height="1.7" fill="#3d9ee2"/><rect x="2.1" y="9.4" width="9.8" height="1.0" fill="#eef6fc"/></g><g transform="translate(120.45,613.00)"><rect x="0.85" y="0.85" width="12.3" height="10.700000000000001" rx="2.0" fill="#fff" stroke="#17507e" stroke-width="1.7"/><rect x="2.1" y="2.2" width="9.8" height="1.7" fill="#0a3868"/><rect x="2.1" y="3.9" width="9.8" height="1.0" fill="#e6eef6"/><rect x="2.1" y="4.9" width="9.8" height="1.7" fill="#1662a4"/><rect x="2.1" y="6.6" width="9.8" height="1.1" fill="#dcebf6"/><rect x="2.1" y="7.7" width="9.8" height="1.7" fill="#3d9ee2"/><rect x="2.1" y="9.4" width="9.8" height="1.0" fill="#eef6fc"/></g><g transform="translate(155.25,613.00)"><rect x="0.85" y="0.85" width="12.3" height="10.700000000000001" rx="2.0" fill="#fff" stroke="#17507e" stroke-width="1.7"/><rect x="2.1" y="2.2" width="9.8" height="1.7" fill="#0a3868"/><rect x="2.1" y="3.9" width="9.8" height="1.0" fill="#e6eef6"/><rect x="2.1" y="4.9" width="9.8" height="1.7" fill="#1662a4"/><rect x="2.1" y="6.6" width="9.8" height="1.1" fill="#dcebf6"/><rect x="2.1" y="7.7" width="9.8" height="1.7" fill="#3d9ee2"/><rect x="2.1" y="9.4" width="9.8" height="1.0" fill="#eef6fc"/></g><g transform="translate(189.85,613.00)"><rect x="0.85" y="0.85" width="12.3" height="10.700000000000001" rx="2.0" fill="#fff" stroke="#17507e" stroke-width="1.7"/><rect x="2.1" y="2.2" width="9.8" height="1.7" fill="#0a3868"/><rect x="2.1" y="3.9" width="9.8" height="1.0" fill="#e6eef6"/><rect x="2.1" y="4.9" width="9.8" height="1.7" fill="#1662a4"/><rect x="2.1" y="6.6" width="9.8" height="1.1" fill="#dcebf6"/><rect x="2.1" y="7.7" width="9.8" height="1.7" fill="#3d9ee2"/><rect x="2.1" y="9.4" width="9.8" height="1.0" fill="#eef6fc"/></g><g transform="translate(224.65,613.00)"><rect x="0.85" y="0.85" width="12.3" height="10.700000000000001" rx="2.0" fill="#fff" stroke="#17507e" stroke-width="1.7"/><rect x="2.1" y="2.2" width="9.8" height="1.7" fill="#0a3868"/><rect x="2.1" y="3.9" width="9.8" height="1.0" fill="#e6eef6"/><rect x="2.1" y="4.9" width="9.8" height="1.7" fill="#1662a4"/><rect x="2.1" y="6.6" width="9.8" height="1.1" fill="#dcebf6"/><rect x="2.1" y="7.7" width="9.8" height="1.7" fill="#3d9ee2"/><rect x="2.1" y="9.4" width="9.8" height="1.0" fill="#eef6fc"/></g><g transform="translate(258.95,613.00)"><rect x="0.85" y="0.85" width="12.3" height="10.700000000000001" rx="2.0" fill="#fff" stroke="#17507e" stroke-width="1.7"/><rect x="2.1" y="2.2" width="9.8" height="1.7" fill="#0a3868"/><rect x="2.1" y="3.9" width="9.8" height="1.0" fill="#e6eef6"/><rect x="2.1" y="4.9" width="9.8" height="1.7" fill="#1662a4"/><rect x="2.1" y="6.6" width="9.8" height="1.1" fill="#dcebf6"/><rect x="2.1" y="7.7" width="9.8" height="1.7" fill="#3d9ee2"/><rect x="2.1" y="9.4" width="9.8" height="1.0" fill="#eef6fc"/></g><g transform="translate(293.65,613.00)"><rect x="0.85" y="0.85" width="12.3" height="10.700000000000001" rx="2.0" fill="#fff" stroke="#17507e" stroke-width="1.7"/><rect x="2.1" y="2.2" width="9.8" height="1.7" fill="#0a3868"/><rect x="2.1" y="3.9" width="9.8" height="1.0" fill="#e6eef6"/><rect x="2.1" y="4.9" width="9.8" height="1.7" fill="#1662a4"/><rect x="2.1" y="6.6" width="9.8" height="1.1" fill="#dcebf6"/><rect x="2.1" y="7.7" width="9.8" height="1.7" fill="#3d9ee2"/><rect x="2.1" y="9.4" width="9.8" height="1.0" fill="#eef6fc"/></g><g transform="translate(328.55,613.00)"><rect x="0.85" y="0.85" width="12.3" height="10.700000000000001" rx="2.0" fill="#fff" stroke="#17507e" stroke-width="1.7"/><rect x="2.1" y="2.2" width="9.8" height="1.7" fill="#0a3868"/><rect x="2.1" y="3.9" width="9.8" height="1.0" fill="#e6eef6"/><rect x="2.1" y="4.9" width="9.8" height="1.7" fill="#1662a4"/><rect x="2.1" y="6.6" width="9.8" height="1.1" fill="#dcebf6"/><rect x="2.1" y="7.7" width="9.8" height="1.7" fill="#3d9ee2"/><rect x="2.1" y="9.4" width="9.8" height="1.0" fill="#eef6fc"/></g><g transform="translate(363.25,613.00)"><rect x="0.85" y="0.85" width="12.3" height="10.700000000000001" rx="2.0" fill="#fff" stroke="#17507e" stroke-width="1.7"/><rect x="2.1" y="2.2" width="9.8" height="1.7" fill="#0a3868"/><rect x="2.1" y="3.9" width="9.8" height="1.0" fill="#e6eef6"/><rect x="2.1" y="4.9" width="9.8" height="1.7" fill="#1662a4"/><rect x="2.1" y="6.6" width="9.8" height="1.1" fill="#dcebf6"/><rect x="2.1" y="7.7" width="9.8" height="1.7" fill="#3d9ee2"/><rect x="2.1" y="9.4" width="9.8" height="1.0" fill="#eef6fc"/></g><g transform="translate(432.25,613.00)"><rect x="0.85" y="0.85" width="12.3" height="10.700000000000001" rx="2.0" fill="#fff" stroke="#17507e" stroke-width="1.7"/><rect x="2.1" y="2.2" width="9.8" height="1.7" fill="#0a3868"/><rect x="2.1" y="3.9" width="9.8" height="1.0" fill="#e6eef6"/><rect x="2.1" y="4.9" width="9.8" height="1.7" fill="#1662a4"/><rect x="2.1" y="6.6" width="9.8" height="1.1" fill="#dcebf6"/><rect x="2.1" y="7.7" width="9.8" height="1.7" fill="#3d9ee2"/><rect x="2.1" y="9.4" width="9.8" height="1.0" fill="#eef6fc"/></g><g transform="translate(467.15,613.00)"><rect x="0.85" y="0.85" width="12.3" height="10.700000000000001" rx="2.0" fill="#fff" stroke="#17507e" stroke-width="1.7"/><rect x="2.1" y="2.2" width="9.8" height="1.7" fill="#0a3868"/><rect x="2.1" y="3.9" width="9.8" height="1.0" fill="#e6eef6"/><rect x="2.1" y="4.9" width="9.8" height="1.7" fill="#1662a4"/><rect x="2.1" y="6.6" width="9.8" height="1.1" fill="#dcebf6"/><rect x="2.1" y="7.7" width="9.8" height="1.7" fill="#3d9ee2"/><rect x="2.1" y="9.4" width="9.8" height="1.0" fill="#eef6fc"/></g><g transform="translate(139.65,645.10)"><rect x="0.85" y="0.85" width="12.3" height="10.700000000000001" rx="2.0" fill="#fff" stroke="#17507e" stroke-width="1.7"/><rect x="2.1" y="2.2" width="9.8" height="1.7" fill="#0a3868"/><rect x="2.1" y="3.9" width="9.8" height="1.0" fill="#e6eef6"/><rect x="2.1" y="4.9" width="9.8" height="1.7" fill="#1662a4"/><rect x="2.1" y="6.6" width="9.8" height="1.1" fill="#dcebf6"/><rect x="2.1" y="7.7" width="9.8" height="1.7" fill="#3d9ee2"/><rect x="2.1" y="9.4" width="9.8" height="1.0" fill="#eef6fc"/></g><g transform="translate(213.05,645.10)"><rect x="0.85" y="0.85" width="12.3" height="10.700000000000001" rx="2.0" fill="#fff" stroke="#17507e" stroke-width="1.7"/><rect x="2.1" y="2.2" width="9.8" height="1.7" fill="#0a3868"/><rect x="2.1" y="3.9" width="9.8" height="1.0" fill="#e6eef6"/><rect x="2.1" y="4.9" width="9.8" height="1.7" fill="#1662a4"/><rect x="2.1" y="6.6" width="9.8" height="1.1" fill="#dcebf6"/><rect x="2.1" y="7.7" width="9.8" height="1.7" fill="#3d9ee2"/><rect x="2.1" y="9.4" width="9.8" height="1.0" fill="#eef6fc"/></g><g transform="translate(286.85,645.10)"><rect x="0.85" y="0.85" width="12.3" height="10.700000000000001" rx="2.0" fill="#fff" stroke="#17507e" stroke-width="1.7"/><rect x="2.1" y="2.2" width="9.8" height="1.7" fill="#0a3868"/><rect x="2.1" y="3.9" width="9.8" height="1.0" fill="#e6eef6"/><rect x="2.1" y="4.9" width="9.8" height="1.7" fill="#1662a4"/><rect x="2.1" y="6.6" width="9.8" height="1.1" fill="#dcebf6"/><rect x="2.1" y="7.7" width="9.8" height="1.7" fill="#3d9ee2"/><rect x="2.1" y="9.4" width="9.8" height="1.0" fill="#eef6fc"/></g><g transform="translate(360.75,645.10)"><rect x="0.85" y="0.85" width="12.3" height="10.700000000000001" rx="2.0" fill="#fff" stroke="#17507e" stroke-width="1.7"/><rect x="2.1" y="2.2" width="9.8" height="1.7" fill="#0a3868"/><rect x="2.1" y="3.9" width="9.8" height="1.0" fill="#e6eef6"/><rect x="2.1" y="4.9" width="9.8" height="1.7" fill="#1662a4"/><rect x="2.1" y="6.6" width="9.8" height="1.1" fill="#dcebf6"/><rect x="2.1" y="7.7" width="9.8" height="1.7" fill="#3d9ee2"/><rect x="2.1" y="9.4" width="9.8" height="1.0" fill="#eef6fc"/></g><g transform="translate(114.15,677.50)"><rect x="0.85" y="0.85" width="12.3" height="10.700000000000001" rx="2.0" fill="#fff" stroke="#17507e" stroke-width="1.7"/><rect x="2.1" y="2.2" width="9.8" height="1.7" fill="#0a3868"/><rect x="2.1" y="3.9" width="9.8" height="1.0" fill="#e6eef6"/><rect x="2.1" y="4.9" width="9.8" height="1.7" fill="#1662a4"/><rect x="2.1" y="6.6" width="9.8" height="1.1" fill="#dcebf6"/><rect x="2.1" y="7.7" width="9.8" height="1.7" fill="#3d9ee2"/><rect x="2.1" y="9.4" width="9.8" height="1.0" fill="#eef6fc"/></g><g transform="translate(136.65,677.50)"><rect x="0.85" y="0.85" width="12.3" height="10.700000000000001" rx="2.0" fill="#fff" stroke="#17507e" stroke-width="1.7"/><rect x="2.1" y="2.2" width="9.8" height="1.7" fill="#0a3868"/><rect x="2.1" y="3.9" width="9.8" height="1.0" fill="#e6eef6"/><rect x="2.1" y="4.9" width="9.8" height="1.7" fill="#1662a4"/><rect x="2.1" y="6.6" width="9.8" height="1.1" fill="#dcebf6"/><rect x="2.1" y="7.7" width="9.8" height="1.7" fill="#3d9ee2"/><rect x="2.1" y="9.4" width="9.8" height="1.0" fill="#eef6fc"/></g><g transform="translate(161.25,677.50)"><rect x="0.85" y="0.85" width="12.3" height="10.700000000000001" rx="2.0" fill="#fff" stroke="#17507e" stroke-width="1.7"/><rect x="2.1" y="2.2" width="9.8" height="1.7" fill="#0a3868"/><rect x="2.1" y="3.9" width="9.8" height="1.0" fill="#e6eef6"/><rect x="2.1" y="4.9" width="9.8" height="1.7" fill="#1662a4"/><rect x="2.1" y="6.6" width="9.8" height="1.1" fill="#dcebf6"/><rect x="2.1" y="7.7" width="9.8" height="1.7" fill="#3d9ee2"/><rect x="2.1" y="9.4" width="9.8" height="1.0" fill="#eef6fc"/></g><g transform="translate(188.65,677.50)"><rect x="0.85" y="0.85" width="12.3" height="10.700000000000001" rx="2.0" fill="#fff" stroke="#17507e" stroke-width="1.7"/><rect x="2.1" y="2.2" width="9.8" height="1.7" fill="#0a3868"/><rect x="2.1" y="3.9" width="9.8" height="1.0" fill="#e6eef6"/><rect x="2.1" y="4.9" width="9.8" height="1.7" fill="#1662a4"/><rect x="2.1" y="6.6" width="9.8" height="1.1" fill="#dcebf6"/><rect x="2.1" y="7.7" width="9.8" height="1.7" fill="#3d9ee2"/><rect x="2.1" y="9.4" width="9.8" height="1.0" fill="#eef6fc"/></g><g transform="translate(215.05,677.50)"><rect x="0.85" y="0.85" width="12.3" height="10.700000000000001" rx="2.0" fill="#fff" stroke="#17507e" stroke-width="1.7"/><rect x="2.1" y="2.2" width="9.8" height="1.7" fill="#0a3868"/><rect x="2.1" y="3.9" width="9.8" height="1.0" fill="#e6eef6"/><rect x="2.1" y="4.9" width="9.8" height="1.7" fill="#1662a4"/><rect x="2.1" y="6.6" width="9.8" height="1.1" fill="#dcebf6"/><rect x="2.1" y="7.7" width="9.8" height="1.7" fill="#3d9ee2"/><rect x="2.1" y="9.4" width="9.8" height="1.0" fill="#eef6fc"/></g><g transform="translate(242.05,677.50)"><rect x="0.85" y="0.85" width="12.3" height="10.700000000000001" rx="2.0" fill="#fff" stroke="#17507e" stroke-width="1.7"/><rect x="2.1" y="2.2" width="9.8" height="1.7" fill="#0a3868"/><rect x="2.1" y="3.9" width="9.8" height="1.0" fill="#e6eef6"/><rect x="2.1" y="4.9" width="9.8" height="1.7" fill="#1662a4"/><rect x="2.1" y="6.6" width="9.8" height="1.1" fill="#dcebf6"/><rect x="2.1" y="7.7" width="9.8" height="1.7" fill="#3d9ee2"/><rect x="2.1" y="9.4" width="9.8" height="1.0" fill="#eef6fc"/></g><g transform="translate(267.15,677.50)"><rect x="0.85" y="0.85" width="12.3" height="10.700000000000001" rx="2.0" fill="#fff" stroke="#17507e" stroke-width="1.7"/><rect x="2.1" y="2.2" width="9.8" height="1.7" fill="#0a3868"/><rect x="2.1" y="3.9" width="9.8" height="1.0" fill="#e6eef6"/><rect x="2.1" y="4.9" width="9.8" height="1.7" fill="#1662a4"/><rect x="2.1" y="6.6" width="9.8" height="1.1" fill="#dcebf6"/><rect x="2.1" y="7.7" width="9.8" height="1.7" fill="#3d9ee2"/><rect x="2.1" y="9.4" width="9.8" height="1.0" fill="#eef6fc"/></g><g transform="translate(289.35,677.50)"><rect x="0.85" y="0.85" width="12.3" height="10.700000000000001" rx="2.0" fill="#fff" stroke="#17507e" stroke-width="1.7"/><rect x="2.1" y="2.2" width="9.8" height="1.7" fill="#0a3868"/><rect x="2.1" y="3.9" width="9.8" height="1.0" fill="#e6eef6"/><rect x="2.1" y="4.9" width="9.8" height="1.7" fill="#1662a4"/><rect x="2.1" y="6.6" width="9.8" height="1.1" fill="#dcebf6"/><rect x="2.1" y="7.7" width="9.8" height="1.7" fill="#3d9ee2"/><rect x="2.1" y="9.4" width="9.8" height="1.0" fill="#eef6fc"/></g><g transform="translate(311.95,677.50)"><rect x="0.85" y="0.85" width="12.3" height="10.700000000000001" rx="2.0" fill="#fff" stroke="#17507e" stroke-width="1.7"/><rect x="2.1" y="2.2" width="9.8" height="1.7" fill="#0a3868"/><rect x="2.1" y="3.9" width="9.8" height="1.0" fill="#e6eef6"/><rect x="2.1" y="4.9" width="9.8" height="1.7" fill="#1662a4"/><rect x="2.1" y="6.6" width="9.8" height="1.1" fill="#dcebf6"/><rect x="2.1" y="7.7" width="9.8" height="1.7" fill="#3d9ee2"/><rect x="2.1" y="9.4" width="9.8" height="1.0" fill="#eef6fc"/></g><g transform="translate(336.85,677.50)"><rect x="0.85" y="0.85" width="12.3" height="10.700000000000001" rx="2.0" fill="#fff" stroke="#17507e" stroke-width="1.7"/><rect x="2.1" y="2.2" width="9.8" height="1.7" fill="#0a3868"/><rect x="2.1" y="3.9" width="9.8" height="1.0" fill="#e6eef6"/><rect x="2.1" y="4.9" width="9.8" height="1.7" fill="#1662a4"/><rect x="2.1" y="6.6" width="9.8" height="1.1" fill="#dcebf6"/><rect x="2.1" y="7.7" width="9.8" height="1.7" fill="#3d9ee2"/><rect x="2.1" y="9.4" width="9.8" height="1.0" fill="#eef6fc"/></g><g transform="translate(363.85,677.50)"><rect x="0.85" y="0.85" width="12.3" height="10.700000000000001" rx="2.0" fill="#fff" stroke="#17507e" stroke-width="1.7"/><rect x="2.1" y="2.2" width="9.8" height="1.7" fill="#0a3868"/><rect x="2.1" y="3.9" width="9.8" height="1.0" fill="#e6eef6"/><rect x="2.1" y="4.9" width="9.8" height="1.7" fill="#1662a4"/><rect x="2.1" y="6.6" width="9.8" height="1.1" fill="#dcebf6"/><rect x="2.1" y="7.7" width="9.8" height="1.7" fill="#3d9ee2"/><rect x="2.1" y="9.4" width="9.8" height="1.0" fill="#eef6fc"/></g><g transform="translate(390.85,677.50)"><rect x="0.85" y="0.85" width="12.3" height="10.700000000000001" rx="2.0" fill="#fff" stroke="#17507e" stroke-width="1.7"/><rect x="2.1" y="2.2" width="9.8" height="1.7" fill="#0a3868"/><rect x="2.1" y="3.9" width="9.8" height="1.0" fill="#e6eef6"/><rect x="2.1" y="4.9" width="9.8" height="1.7" fill="#1662a4"/><rect x="2.1" y="6.6" width="9.8" height="1.1" fill="#dcebf6"/><rect x="2.1" y="7.7" width="9.8" height="1.7" fill="#3d9ee2"/><rect x="2.1" y="9.4" width="9.8" height="1.0" fill="#eef6fc"/></g><g transform="translate(417.85,677.50)"><rect x="0.85" y="0.85" width="12.3" height="10.700000000000001" rx="2.0" fill="#fff" stroke="#17507e" stroke-width="1.7"/><rect x="2.1" y="2.2" width="9.8" height="1.7" fill="#0a3868"/><rect x="2.1" y="3.9" width="9.8" height="1.0" fill="#e6eef6"/><rect x="2.1" y="4.9" width="9.8" height="1.7" fill="#1662a4"/><rect x="2.1" y="6.6" width="9.8" height="1.1" fill="#dcebf6"/><rect x="2.1" y="7.7" width="9.8" height="1.7" fill="#3d9ee2"/><rect x="2.1" y="9.4" width="9.8" height="1.0" fill="#eef6fc"/></g><g transform="translate(444.85,677.50)"><rect x="0.85" y="0.85" width="12.3" height="10.700000000000001" rx="2.0" fill="#fff" stroke="#17507e" stroke-width="1.7"/><rect x="2.1" y="2.2" width="9.8" height="1.7" fill="#0a3868"/><rect x="2.1" y="3.9" width="9.8" height="1.0" fill="#e6eef6"/><rect x="2.1" y="4.9" width="9.8" height="1.7" fill="#1662a4"/><rect x="2.1" y="6.6" width="9.8" height="1.1" fill="#dcebf6"/><rect x="2.1" y="7.7" width="9.8" height="1.7" fill="#3d9ee2"/><rect x="2.1" y="9.4" width="9.8" height="1.0" fill="#eef6fc"/></g><g transform="translate(114.15,710.10)"><rect x="0.85" y="0.85" width="12.3" height="10.700000000000001" rx="2.0" fill="#fff" stroke="#17507e" stroke-width="1.7"/><rect x="2.1" y="2.2" width="9.8" height="1.7" fill="#0a3868"/><rect x="2.1" y="3.9" width="9.8" height="1.0" fill="#e6eef6"/><rect x="2.1" y="4.9" width="9.8" height="1.7" fill="#1662a4"/><rect x="2.1" y="6.6" width="9.8" height="1.1" fill="#dcebf6"/><rect x="2.1" y="7.7" width="9.8" height="1.7" fill="#3d9ee2"/><rect x="2.1" y="9.4" width="9.8" height="1.0" fill="#eef6fc"/></g><g transform="translate(139.15,710.10)"><rect x="0.85" y="0.85" width="12.3" height="10.700000000000001" rx="2.0" fill="#fff" stroke="#17507e" stroke-width="1.7"/><rect x="2.1" y="2.2" width="9.8" height="1.7" fill="#0a3868"/><rect x="2.1" y="3.9" width="9.8" height="1.0" fill="#e6eef6"/><rect x="2.1" y="4.9" width="9.8" height="1.7" fill="#1662a4"/><rect x="2.1" y="6.6" width="9.8" height="1.1" fill="#dcebf6"/><rect x="2.1" y="7.7" width="9.8" height="1.7" fill="#3d9ee2"/><rect x="2.1" y="9.4" width="9.8" height="1.0" fill="#eef6fc"/></g><g transform="translate(166.15,710.10)"><rect x="0.85" y="0.85" width="12.3" height="10.700000000000001" rx="2.0" fill="#fff" stroke="#17507e" stroke-width="1.7"/><rect x="2.1" y="2.2" width="9.8" height="1.7" fill="#0a3868"/><rect x="2.1" y="3.9" width="9.8" height="1.0" fill="#e6eef6"/><rect x="2.1" y="4.9" width="9.8" height="1.7" fill="#1662a4"/><rect x="2.1" y="6.6" width="9.8" height="1.1" fill="#dcebf6"/><rect x="2.1" y="7.7" width="9.8" height="1.7" fill="#3d9ee2"/><rect x="2.1" y="9.4" width="9.8" height="1.0" fill="#eef6fc"/></g><g transform="translate(192.75,710.10)"><rect x="0.85" y="0.85" width="12.3" height="10.700000000000001" rx="2.0" fill="#fff" stroke="#17507e" stroke-width="1.7"/><rect x="2.1" y="2.2" width="9.8" height="1.7" fill="#0a3868"/><rect x="2.1" y="3.9" width="9.8" height="1.0" fill="#e6eef6"/><rect x="2.1" y="4.9" width="9.8" height="1.7" fill="#1662a4"/><rect x="2.1" y="6.6" width="9.8" height="1.1" fill="#dcebf6"/><rect x="2.1" y="7.7" width="9.8" height="1.7" fill="#3d9ee2"/><rect x="2.1" y="9.4" width="9.8" height="1.0" fill="#eef6fc"/></g><g transform="translate(219.45,710.10)"><rect x="0.85" y="0.85" width="12.3" height="10.700000000000001" rx="2.0" fill="#fff" stroke="#17507e" stroke-width="1.7"/><rect x="2.1" y="2.2" width="9.8" height="1.7" fill="#0a3868"/><rect x="2.1" y="3.9" width="9.8" height="1.0" fill="#e6eef6"/><rect x="2.1" y="4.9" width="9.8" height="1.7" fill="#1662a4"/><rect x="2.1" y="6.6" width="9.8" height="1.1" fill="#dcebf6"/><rect x="2.1" y="7.7" width="9.8" height="1.7" fill="#3d9ee2"/><rect x="2.1" y="9.4" width="9.8" height="1.0" fill="#eef6fc"/></g><g transform="translate(271.45,710.10)"><rect x="0.85" y="0.85" width="12.3" height="10.700000000000001" rx="2.0" fill="#fff" stroke="#17507e" stroke-width="1.7"/><rect x="2.1" y="2.2" width="9.8" height="1.7" fill="#0a3868"/><rect x="2.1" y="3.9" width="9.8" height="1.0" fill="#e6eef6"/><rect x="2.1" y="4.9" width="9.8" height="1.7" fill="#1662a4"/><rect x="2.1" y="6.6" width="9.8" height="1.1" fill="#dcebf6"/><rect x="2.1" y="7.7" width="9.8" height="1.7" fill="#3d9ee2"/><rect x="2.1" y="9.4" width="9.8" height="1.0" fill="#eef6fc"/></g><g transform="translate(296.05,710.10)"><rect x="0.85" y="0.85" width="12.3" height="10.700000000000001" rx="2.0" fill="#fff" stroke="#17507e" stroke-width="1.7"/><rect x="2.1" y="2.2" width="9.8" height="1.7" fill="#0a3868"/><rect x="2.1" y="3.9" width="9.8" height="1.0" fill="#e6eef6"/><rect x="2.1" y="4.9" width="9.8" height="1.7" fill="#1662a4"/><rect x="2.1" y="6.6" width="9.8" height="1.1" fill="#dcebf6"/><rect x="2.1" y="7.7" width="9.8" height="1.7" fill="#3d9ee2"/><rect x="2.1" y="9.4" width="9.8" height="1.0" fill="#eef6fc"/></g><g transform="translate(322.75,710.10)"><rect x="0.85" y="0.85" width="12.3" height="10.700000000000001" rx="2.0" fill="#fff" stroke="#17507e" stroke-width="1.7"/><rect x="2.1" y="2.2" width="9.8" height="1.7" fill="#0a3868"/><rect x="2.1" y="3.9" width="9.8" height="1.0" fill="#e6eef6"/><rect x="2.1" y="4.9" width="9.8" height="1.7" fill="#1662a4"/><rect x="2.1" y="6.6" width="9.8" height="1.1" fill="#dcebf6"/><rect x="2.1" y="7.7" width="9.8" height="1.7" fill="#3d9ee2"/><rect x="2.1" y="9.4" width="9.8" height="1.0" fill="#eef6fc"/></g><g transform="translate(347.45,710.10)"><rect x="0.85" y="0.85" width="12.3" height="10.700000000000001" rx="2.0" fill="#fff" stroke="#17507e" stroke-width="1.7"/><rect x="2.1" y="2.2" width="9.8" height="1.7" fill="#0a3868"/><rect x="2.1" y="3.9" width="9.8" height="1.0" fill="#e6eef6"/><rect x="2.1" y="4.9" width="9.8" height="1.7" fill="#1662a4"/><rect x="2.1" y="6.6" width="9.8" height="1.1" fill="#dcebf6"/><rect x="2.1" y="7.7" width="9.8" height="1.7" fill="#3d9ee2"/><rect x="2.1" y="9.4" width="9.8" height="1.0" fill="#eef6fc"/></g><g transform="translate(370.05,710.10)"><rect x="0.85" y="0.85" width="12.3" height="10.700000000000001" rx="2.0" fill="#fff" stroke="#17507e" stroke-width="1.7"/><rect x="2.1" y="2.2" width="9.8" height="1.7" fill="#0a3868"/><rect x="2.1" y="3.9" width="9.8" height="1.0" fill="#e6eef6"/><rect x="2.1" y="4.9" width="9.8" height="1.7" fill="#1662a4"/><rect x="2.1" y="6.6" width="9.8" height="1.1" fill="#dcebf6"/><rect x="2.1" y="7.7" width="9.8" height="1.7" fill="#3d9ee2"/><rect x="2.1" y="9.4" width="9.8" height="1.0" fill="#eef6fc"/></g><g transform="translate(392.45,710.10)"><rect x="0.85" y="0.85" width="12.3" height="10.700000000000001" rx="2.0" fill="#fff" stroke="#17507e" stroke-width="1.7"/><rect x="2.1" y="2.2" width="9.8" height="1.7" fill="#0a3868"/><rect x="2.1" y="3.9" width="9.8" height="1.0" fill="#e6eef6"/><rect x="2.1" y="4.9" width="9.8" height="1.7" fill="#1662a4"/><rect x="2.1" y="6.6" width="9.8" height="1.1" fill="#dcebf6"/><rect x="2.1" y="7.7" width="9.8" height="1.7" fill="#3d9ee2"/><rect x="2.1" y="9.4" width="9.8" height="1.0" fill="#eef6fc"/></g><g transform="translate(120.45,742.70)"><rect x="0.85" y="0.85" width="12.3" height="10.700000000000001" rx="2.0" fill="#fff" stroke="#17507e" stroke-width="1.7"/><rect x="2.1" y="2.2" width="9.8" height="1.7" fill="#0a3868"/><rect x="2.1" y="3.9" width="9.8" height="1.0" fill="#e6eef6"/><rect x="2.1" y="4.9" width="9.8" height="1.7" fill="#1662a4"/><rect x="2.1" y="6.6" width="9.8" height="1.1" fill="#dcebf6"/><rect x="2.1" y="7.7" width="9.8" height="1.7" fill="#3d9ee2"/><rect x="2.1" y="9.4" width="9.8" height="1.0" fill="#eef6fc"/></g><g transform="translate(155.25,742.70)"><rect x="0.85" y="0.85" width="12.3" height="10.700000000000001" rx="2.0" fill="#fff" stroke="#17507e" stroke-width="1.7"/><rect x="2.1" y="2.2" width="9.8" height="1.7" fill="#0a3868"/><rect x="2.1" y="3.9" width="9.8" height="1.0" fill="#e6eef6"/><rect x="2.1" y="4.9" width="9.8" height="1.7" fill="#1662a4"/><rect x="2.1" y="6.6" width="9.8" height="1.1" fill="#dcebf6"/><rect x="2.1" y="7.7" width="9.8" height="1.7" fill="#3d9ee2"/><rect x="2.1" y="9.4" width="9.8" height="1.0" fill="#eef6fc"/></g><g transform="translate(189.85,742.70)"><rect x="0.85" y="0.85" width="12.3" height="10.700000000000001" rx="2.0" fill="#fff" stroke="#17507e" stroke-width="1.7"/><rect x="2.1" y="2.2" width="9.8" height="1.7" fill="#0a3868"/><rect x="2.1" y="3.9" width="9.8" height="1.0" fill="#e6eef6"/><rect x="2.1" y="4.9" width="9.8" height="1.7" fill="#1662a4"/><rect x="2.1" y="6.6" width="9.8" height="1.1" fill="#dcebf6"/><rect x="2.1" y="7.7" width="9.8" height="1.7" fill="#3d9ee2"/><rect x="2.1" y="9.4" width="9.8" height="1.0" fill="#eef6fc"/></g><g transform="translate(224.65,742.70)"><rect x="0.85" y="0.85" width="12.3" height="10.700000000000001" rx="2.0" fill="#fff" stroke="#17507e" stroke-width="1.7"/><rect x="2.1" y="2.2" width="9.8" height="1.7" fill="#0a3868"/><rect x="2.1" y="3.9" width="9.8" height="1.0" fill="#e6eef6"/><rect x="2.1" y="4.9" width="9.8" height="1.7" fill="#1662a4"/><rect x="2.1" y="6.6" width="9.8" height="1.1" fill="#dcebf6"/><rect x="2.1" y="7.7" width="9.8" height="1.7" fill="#3d9ee2"/><rect x="2.1" y="9.4" width="9.8" height="1.0" fill="#eef6fc"/></g><g transform="translate(258.95,742.70)"><rect x="0.85" y="0.85" width="12.3" height="10.700000000000001" rx="2.0" fill="#fff" stroke="#17507e" stroke-width="1.7"/><rect x="2.1" y="2.2" width="9.8" height="1.7" fill="#0a3868"/><rect x="2.1" y="3.9" width="9.8" height="1.0" fill="#e6eef6"/><rect x="2.1" y="4.9" width="9.8" height="1.7" fill="#1662a4"/><rect x="2.1" y="6.6" width="9.8" height="1.1" fill="#dcebf6"/><rect x="2.1" y="7.7" width="9.8" height="1.7" fill="#3d9ee2"/><rect x="2.1" y="9.4" width="9.8" height="1.0" fill="#eef6fc"/></g><g transform="translate(293.65,742.70)"><rect x="0.85" y="0.85" width="12.3" height="10.700000000000001" rx="2.0" fill="#fff" stroke="#17507e" stroke-width="1.7"/><rect x="2.1" y="2.2" width="9.8" height="1.7" fill="#0a3868"/><rect x="2.1" y="3.9" width="9.8" height="1.0" fill="#e6eef6"/><rect x="2.1" y="4.9" width="9.8" height="1.7" fill="#1662a4"/><rect x="2.1" y="6.6" width="9.8" height="1.1" fill="#dcebf6"/><rect x="2.1" y="7.7" width="9.8" height="1.7" fill="#3d9ee2"/><rect x="2.1" y="9.4" width="9.8" height="1.0" fill="#eef6fc"/></g><g transform="translate(328.55,742.70)"><rect x="0.85" y="0.85" width="12.3" height="10.700000000000001" rx="2.0" fill="#fff" stroke="#17507e" stroke-width="1.7"/><rect x="2.1" y="2.2" width="9.8" height="1.7" fill="#0a3868"/><rect x="2.1" y="3.9" width="9.8" height="1.0" fill="#e6eef6"/><rect x="2.1" y="4.9" width="9.8" height="1.7" fill="#1662a4"/><rect x="2.1" y="6.6" width="9.8" height="1.1" fill="#dcebf6"/><rect x="2.1" y="7.7" width="9.8" height="1.7" fill="#3d9ee2"/><rect x="2.1" y="9.4" width="9.8" height="1.0" fill="#eef6fc"/></g><g transform="translate(363.25,742.70)"><rect x="0.85" y="0.85" width="12.3" height="10.700000000000001" rx="2.0" fill="#fff" stroke="#17507e" stroke-width="1.7"/><rect x="2.1" y="2.2" width="9.8" height="1.7" fill="#0a3868"/><rect x="2.1" y="3.9" width="9.8" height="1.0" fill="#e6eef6"/><rect x="2.1" y="4.9" width="9.8" height="1.7" fill="#1662a4"/><rect x="2.1" y="6.6" width="9.8" height="1.1" fill="#dcebf6"/><rect x="2.1" y="7.7" width="9.8" height="1.7" fill="#3d9ee2"/><rect x="2.1" y="9.4" width="9.8" height="1.0" fill="#eef6fc"/></g><g transform="translate(397.95,742.70)"><rect x="0.85" y="0.85" width="12.3" height="10.700000000000001" rx="2.0" fill="#fff" stroke="#17507e" stroke-width="1.7"/><rect x="2.1" y="2.2" width="9.8" height="1.7" fill="#0a3868"/><rect x="2.1" y="3.9" width="9.8" height="1.0" fill="#e6eef6"/><rect x="2.1" y="4.9" width="9.8" height="1.7" fill="#1662a4"/><rect x="2.1" y="6.6" width="9.8" height="1.1" fill="#dcebf6"/><rect x="2.1" y="7.7" width="9.8" height="1.7" fill="#3d9ee2"/><rect x="2.1" y="9.4" width="9.8" height="1.0" fill="#eef6fc"/></g><g transform="translate(432.25,742.70)"><rect x="0.85" y="0.85" width="12.3" height="10.700000000000001" rx="2.0" fill="#fff" stroke="#17507e" stroke-width="1.7"/><rect x="2.1" y="2.2" width="9.8" height="1.7" fill="#0a3868"/><rect x="2.1" y="3.9" width="9.8" height="1.0" fill="#e6eef6"/><rect x="2.1" y="4.9" width="9.8" height="1.7" fill="#1662a4"/><rect x="2.1" y="6.6" width="9.8" height="1.1" fill="#dcebf6"/><rect x="2.1" y="7.7" width="9.8" height="1.7" fill="#3d9ee2"/><rect x="2.1" y="9.4" width="9.8" height="1.0" fill="#eef6fc"/></g><g transform="translate(467.15,742.70)"><rect x="0.85" y="0.85" width="12.3" height="10.700000000000001" rx="2.0" fill="#fff" stroke="#17507e" stroke-width="1.7"/><rect x="2.1" y="2.2" width="9.8" height="1.7" fill="#0a3868"/><rect x="2.1" y="3.9" width="9.8" height="1.0" fill="#e6eef6"/><rect x="2.1" y="4.9" width="9.8" height="1.7" fill="#1662a4"/><rect x="2.1" y="6.6" width="9.8" height="1.1" fill="#dcebf6"/><rect x="2.1" y="7.7" width="9.8" height="1.7" fill="#3d9ee2"/><rect x="2.1" y="9.4" width="9.8" height="1.0" fill="#eef6fc"/></g></svg>
</body></html>
